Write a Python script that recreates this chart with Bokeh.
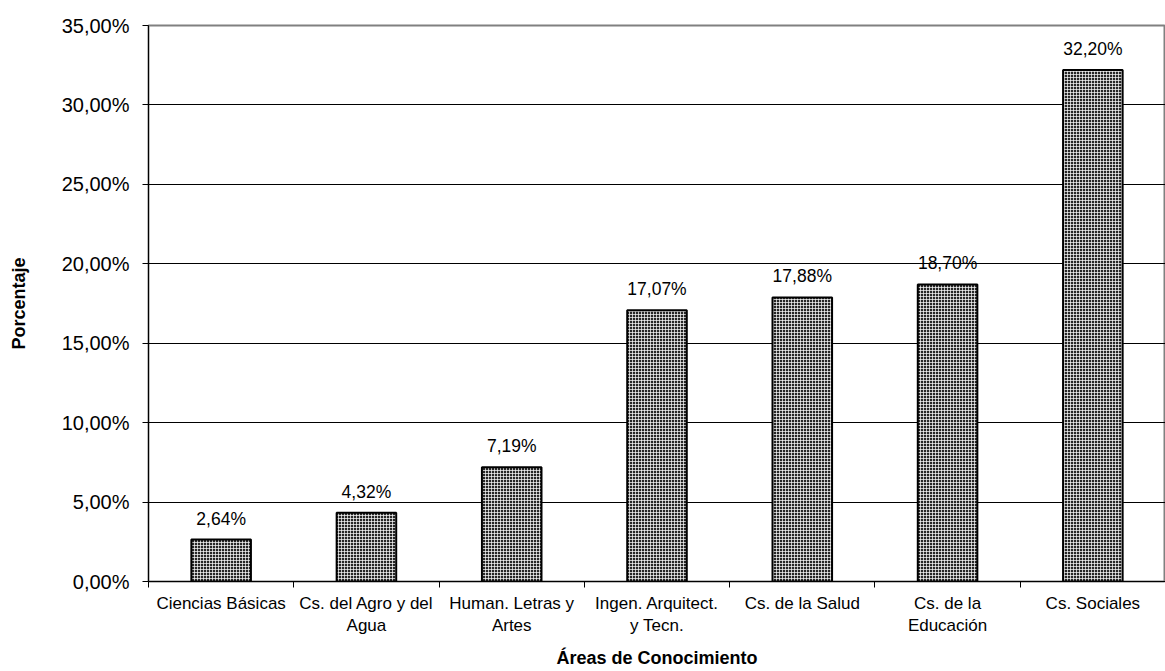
from bokeh.plotting import figure
from bokeh.models import ColumnDataSource, FixedTicker, Range1d
from bokeh.core.properties import value
from bokeh.embed import file_html
from bokeh.resources import INLINE

categories = ["Ciencias Básicas", "Cs. del Agro y del\nAgua", "Human. Letras y\nArtes",
              "Ingen. Arquitect.\ny Tecn.", "Cs. de la Salud", "Cs. de la\nEducación", "Cs. Sociales"]
values = [2.64, 4.32, 7.19, 17.07, 17.88, 18.70, 32.20]
y_ticks = [0, 5, 10, 15, 20, 25, 30, 35]
y_tick_labels = ["0,00%", "5,00%", "10,00%", "15,00%", "20,00%", "25,00%", "30,00%", "35,00%"]

FONT = "Liberation Sans"

xs = list(range(1, len(categories) + 1))
labels = [f"{v:.2f}%".replace(".", ",") for v in values]
src = ColumnDataSource(dict(x=xs, top=values, label=labels))

p = figure(width=1165, height=671, output_backend="svg", toolbar_location=None,
           x_range=Range1d(0.5, len(categories) + 0.5), y_range=Range1d(0, 35))
p.min_border_left = 148
p.min_border_right = 0
p.min_border_top = 25
p.min_border_bottom = 89
p.outline_line_color = "#808080"
p.outline_line_width = 2
p.background_fill_color = "white"
p.border_fill_color = "white"

p.vbar(x="x", top="top", bottom=0, width=0.41, source=src,
       fill_color="#262626", line_color="black", line_width=2,
       hatch_pattern="cross", hatch_color="white", hatch_scale=3, hatch_weight=0.7, hatch_alpha=1.0)

p.text(x="x", y="top", text="label", source=src, text_align="center", text_baseline="bottom",
       y_offset=-11, text_font=value(FONT), text_font_size="17.5px", text_color="black")

# grid
p.xgrid.visible = False
p.ygrid.ticker = FixedTicker(ticks=y_ticks)
p.ygrid.grid_line_color = "black"
p.ygrid.grid_line_width = 1

# y axis
ya = p.yaxis[0]
ya.ticker = FixedTicker(ticks=y_ticks)
ya.major_label_overrides = {t: l for t, l in zip(y_ticks, y_tick_labels)}
ya.minor_tick_line_color = None
ya.major_tick_out = 6
ya.major_tick_in = 0
ya.major_label_standoff = 13
ya.axis_line_color = "black"
ya.major_tick_line_color = "black"
ya.major_label_text_font = FONT
ya.major_label_text_font_size = "20px"
ya.major_label_text_color = "black"
ya.axis_label = "Porcentaje"
ya.axis_label_text_font = FONT
ya.axis_label_text_font_style = "bold"
ya.axis_label_text_font_size = "18px"
ya.axis_label_text_color = "black"
ya.axis_label_standoff = 30

# x axis
xa = p.xaxis[0]
xa.ticker = FixedTicker(ticks=xs, minor_ticks=[x - 0.5 for x in xs] + [len(xs) + 0.5])
xa.major_label_overrides = {x: c for x, c in zip(xs, categories)}
xa.major_tick_line_color = None
xa.major_tick_out = 0
xa.major_tick_in = 0
xa.minor_tick_line_color = "black"
xa.minor_tick_out = 6
xa.minor_tick_in = 0
xa.axis_line_color = "black"
xa.major_label_standoff = 6
xa.major_label_text_font = FONT
xa.major_label_text_font_size = "17px"
xa.major_label_text_color = "black"
xa.axis_label = "Áreas de Conocimiento"
xa.axis_label_text_font = FONT
xa.axis_label_text_font_style = "bold"
xa.axis_label_text_font_size = "18px"
xa.axis_label_text_color = "black"
xa.axis_label_standoff = 10

open("out.html", "w").write(file_html(p, INLINE))
